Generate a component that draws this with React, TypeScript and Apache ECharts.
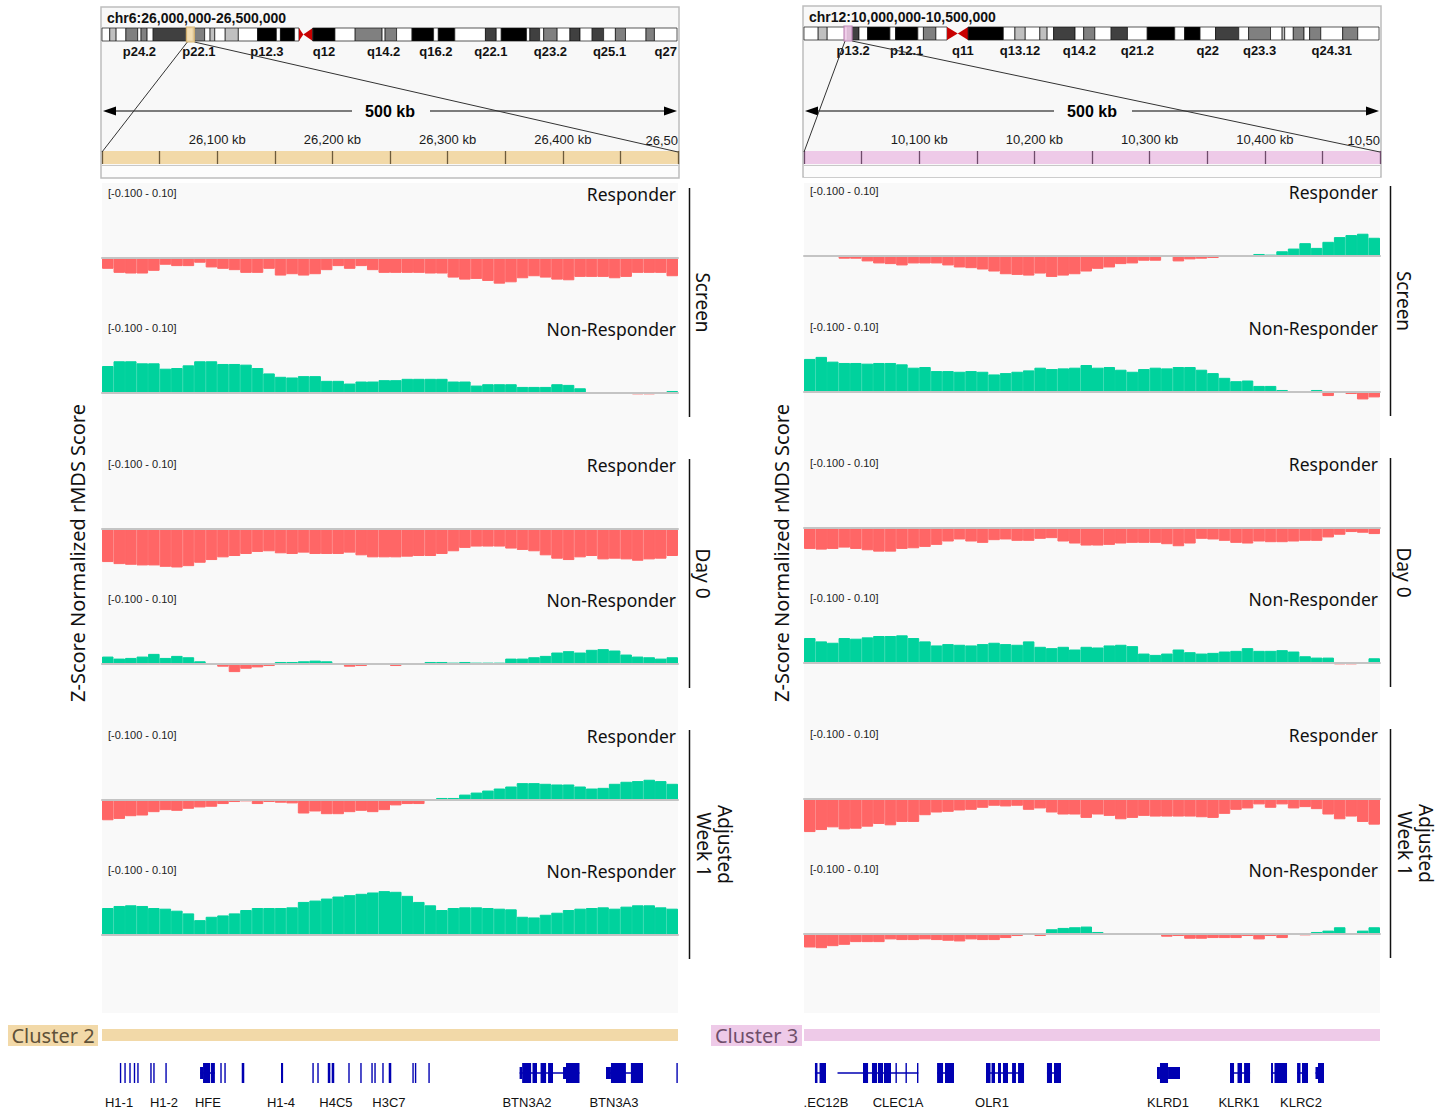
import React, { useEffect, useRef } from "react";
import * as echarts from "echarts";

// ================= DATA =================
const leftLocus = "chr6:26,000,000-26,500,000";
const rightLocus = "chr12:10,000,000-10,500,000";
const leftRegionKb = [26000, 26500];
const rightRegionKb = [10000, 10500];
const binKb = 10;
const leftChromMb = 170.8;
const rightChromMb = 133.85;
const scaleBarLabel = "500 kb";

const trackNames = ["Responder", "Non-Responder", "Responder", "Non-Responder", "Responder", "Non-Responder"];
const groupNames = ["Screen", "Day 0", "Adjusted\nWeek 1"];
const dataRangeLabel = "[-0.100 - 0.10]";
const dataRange = [-0.1, 0.1];
const yAxisTitle = "Z-Score Normalized rMDS Score";
const leftClusterName = "Cluster 2";
const rightClusterName = "Cluster 3";

// ---- bin values (10 kb bins) ----
const leftScreenResponder = [-0.016,-0.022,-0.023,-0.023,-0.019,-0.010,-0.012,-0.012,-0.007,-0.014,-0.016,-0.018,-0.022,-0.022,-0.016,-0.026,-0.024,-0.026,-0.024,-0.018,-0.012,-0.016,-0.012,-0.018,-0.022,-0.022,-0.022,-0.022,-0.023,-0.023,-0.029,-0.032,-0.031,-0.034,-0.038,-0.036,-0.030,-0.027,-0.029,-0.032,-0.033,-0.028,-0.028,-0.028,-0.030,-0.028,-0.022,-0.022,-0.022,-0.027];
const leftScreenNonResponder = [0.040,0.047,0.047,0.044,0.044,0.036,0.037,0.041,0.047,0.047,0.043,0.043,0.042,0.037,0.029,0.024,0.023,0.025,0.025,0.018,0.018,0.014,0.017,0.017,0.019,0.019,0.021,0.021,0.021,0.021,0.017,0.017,0.011,0.013,0.013,0.013,0.009,0.009,0.009,0.013,0.012,0.007,0.001,0.001,0.001,0.001,-0.002,-0.002,0.001,0.003];
const leftDay0Responder = [-0.049,-0.052,-0.053,-0.054,-0.054,-0.056,-0.057,-0.055,-0.050,-0.046,-0.042,-0.040,-0.037,-0.034,-0.033,-0.036,-0.037,-0.035,-0.037,-0.037,-0.037,-0.035,-0.039,-0.042,-0.042,-0.042,-0.041,-0.040,-0.040,-0.037,-0.033,-0.028,-0.026,-0.026,-0.026,-0.029,-0.031,-0.033,-0.039,-0.044,-0.046,-0.042,-0.040,-0.045,-0.044,-0.045,-0.047,-0.045,-0.044,-0.040];
const leftDay0NonResponder = [0.011,0.008,0.009,0.011,0.015,0.009,0.012,0.010,0.004,0.000,-0.004,-0.012,-0.007,-0.005,-0.003,0.003,0.003,0.004,0.005,0.004,0.001,-0.004,-0.003,-0.001,-0.001,-0.003,0.000,0.0005,0.003,0.003,0.002,0.003,0.002,0.002,0.002,0.008,0.008,0.010,0.012,0.017,0.019,0.017,0.021,0.022,0.020,0.014,0.011,0.010,0.008,0.010];
const leftWeek1Responder = [-0.030,-0.028,-0.024,-0.023,-0.018,-0.015,-0.016,-0.013,-0.011,-0.010,-0.006,-0.003,-0.002,-0.006,-0.003,-0.004,-0.005,-0.020,-0.017,-0.021,-0.021,-0.018,-0.016,-0.018,-0.015,-0.008,-0.006,-0.006,0.000,0.003,0.003,0.008,0.011,0.014,0.017,0.020,0.025,0.025,0.024,0.023,0.023,0.020,0.017,0.018,0.024,0.027,0.028,0.030,0.028,0.024];
const leftWeek1NonResponder = [0.040,0.043,0.044,0.043,0.040,0.039,0.036,0.032,0.022,0.027,0.029,0.032,0.037,0.040,0.040,0.040,0.041,0.049,0.051,0.054,0.057,0.059,0.061,0.063,0.065,0.064,0.058,0.049,0.044,0.037,0.040,0.041,0.041,0.040,0.039,0.038,0.027,0.026,0.030,0.033,0.037,0.039,0.040,0.041,0.039,0.042,0.044,0.044,0.041,0.039];

const rightScreenResponder = [0.001,0.001,0.000,-0.004,-0.004,-0.008,-0.011,-0.012,-0.014,-0.011,-0.011,-0.011,-0.014,-0.017,-0.018,-0.020,-0.023,-0.027,-0.028,-0.029,-0.026,-0.031,-0.029,-0.027,-0.023,-0.019,-0.017,-0.012,-0.011,-0.007,-0.007,-0.001,-0.008,-0.005,-0.004,-0.003,-0.001,0.0005,0.0005,0.003,0.002,0.007,0.011,0.019,0.012,0.021,0.028,0.031,0.033,0.027];
const rightScreenNonResponder = [0.049,0.052,0.045,0.043,0.043,0.042,0.043,0.043,0.041,0.036,0.037,0.031,0.031,0.030,0.031,0.030,0.026,0.028,0.030,0.032,0.036,0.034,0.035,0.036,0.040,0.036,0.037,0.033,0.030,0.034,0.036,0.035,0.037,0.037,0.033,0.028,0.021,0.016,0.017,0.009,0.009,0.003,0.001,0.001,0.003,-0.006,-0.001,-0.003,-0.011,-0.008];
const rightDay0Responder = [-0.031,-0.032,-0.031,-0.029,-0.031,-0.033,-0.035,-0.035,-0.031,-0.030,-0.028,-0.025,-0.020,-0.017,-0.020,-0.022,-0.018,-0.017,-0.019,-0.019,-0.016,-0.015,-0.020,-0.023,-0.026,-0.026,-0.025,-0.023,-0.022,-0.022,-0.022,-0.024,-0.027,-0.023,-0.016,-0.017,-0.019,-0.022,-0.023,-0.020,-0.021,-0.021,-0.020,-0.019,-0.019,-0.014,-0.010,-0.006,-0.007,-0.009];
const rightDay0NonResponder = [0.037,0.032,0.030,0.037,0.036,0.038,0.040,0.040,0.041,0.037,0.032,0.026,0.028,0.027,0.026,0.028,0.030,0.028,0.027,0.032,0.024,0.022,0.024,0.020,0.024,0.023,0.026,0.027,0.025,0.014,0.012,0.014,0.020,0.016,0.014,0.015,0.017,0.018,0.022,0.018,0.018,0.019,0.017,0.010,0.008,0.008,-0.002,-0.002,0.000,0.007];
const rightWeek1Responder = [-0.049,-0.046,-0.042,-0.045,-0.044,-0.041,-0.037,-0.039,-0.034,-0.034,-0.024,-0.020,-0.019,-0.017,-0.016,-0.013,-0.010,-0.011,-0.010,-0.016,-0.014,-0.020,-0.023,-0.023,-0.028,-0.023,-0.025,-0.030,-0.028,-0.025,-0.026,-0.026,-0.026,-0.026,-0.027,-0.028,-0.022,-0.016,-0.014,-0.008,-0.013,-0.008,-0.014,-0.012,-0.015,-0.023,-0.030,-0.026,-0.034,-0.038];
const rightWeek1NonResponder = [-0.020,-0.021,-0.018,-0.016,-0.012,-0.012,-0.012,-0.008,-0.009,-0.009,-0.008,-0.009,-0.010,-0.011,-0.008,-0.009,-0.009,-0.006,-0.003,-0.001,-0.003,0.007,0.009,0.010,0.011,0.003,0.000,0.000,0.000,0.000,0.000,-0.004,-0.003,-0.007,-0.007,-0.006,-0.006,-0.006,-0.003,-0.008,-0.003,-0.006,-0.001,-0.002,0.003,0.005,0.010,0.001,0.005,0.010];

// ---- cytobands [startMb, endMb, stain, name] ----
const chr6Bands = [
  [0,2.3,"gneg","p25.3"],[2.3,4.2,"gpos25","p25.2"],[4.2,7.1,"gneg","p25.1"],[7.1,10.6,"gpos50","p24.3"],[10.6,11.6,"gneg","p24.2"],[11.6,13.4,"gpos50","p24.1"],[13.4,15.2,"gneg","p23"],[15.2,25.2,"gpos75","p22.3"],[25.2,27.1,"gneg","p22.2"],[27.1,30.5,"gpos50","p22.1"],[30.5,32.1,"gneg","p21.33"],[32.1,33.5,"gpos25","p21.32"],[33.5,36.6,"gneg","p21.31"],[36.6,40.5,"gpos25","p21.2"],[40.5,46.2,"gneg","p21.1"],[46.2,51.8,"gpos100","p12.3"],[51.8,53.0,"gneg","p12.2"],[53.0,57.2,"gpos100","p12.1"],[57.2,58.5,"gneg","p11.2"],[58.5,59.8,"acen","p11.1"],[59.8,62.6,"acen","q11.1"],[62.6,62.7,"gneg","q11.2"],[62.7,69.2,"gpos100","q12"],[69.2,75.2,"gneg","q13"],[75.2,83.2,"gpos50","q14.1"],[83.2,84.1,"gneg","q14.2"],[84.1,87.5,"gpos50","q14.3"],[87.5,92.1,"gneg","q15"],[92.1,98.5,"gpos100","q16.1"],[98.5,99.9,"gneg","q16.2"],[99.9,104.8,"gpos100","q16.3"],[104.8,113.9,"gneg","q21"],[113.9,117.1,"gpos75","q22.1"],[117.1,118.6,"gneg","q22.2"],[118.6,126.1,"gpos100","q22.31"],[126.1,127.1,"gneg","q22.32"],[127.1,130.0,"gpos75","q22.33"],[130.0,131.2,"gneg","q23.1"],[131.2,135.2,"gpos50","q23.2"],[135.2,139.0,"gneg","q23.3"],[139.0,142.0,"gpos75","q24.1"],[142.0,145.6,"gneg","q24.2"],[145.6,149.0,"gpos75","q24.3"],[149.0,152.5,"gneg","q25.1"],[152.5,155.5,"gpos50","q25.2"],[155.5,161.6,"gneg","q25.3"],[161.6,164.1,"gpos50","q26"],[164.1,170.8,"gneg","q27"],
];
const chr6LabeledBands = ["p24.2","p22.1","p12.3","q12","q14.2","q16.2","q22.1","q23.2","q25.1","q27"];
const chr12Bands = [
  [0,3.3,"gneg","p13.33"],[3.3,5.4,"gpos25","p13.32"],[5.4,10.1,"gneg","p13.31"],[10.1,12.8,"gpos75","p13.2"],[12.8,14.8,"gneg","p13.1"],[14.8,20.0,"gpos100","p12.3"],[20.0,21.3,"gneg","p12.2"],[21.3,26.5,"gpos100","p12.1"],[26.5,27.8,"gneg","p11.23"],[27.8,30.7,"gpos50","p11.22"],[30.7,33.3,"gneg","p11.21"],[33.3,35.8,"acen","p11.1"],[35.8,38.2,"acen","q11"],[38.2,46.4,"gpos100","q12"],[46.4,49.1,"gneg","q13.11"],[49.1,51.5,"gpos25","q13.12"],[51.5,54.9,"gneg","q13.13"],[54.9,56.6,"gpos25","q13.2"],[56.6,58.1,"gneg","q13.3"],[58.1,63.1,"gpos75","q14.1"],[63.1,65.1,"gneg","q14.2"],[65.1,67.7,"gpos50","q14.3"],[67.7,71.5,"gneg","q15"],[71.5,75.3,"gpos75","q21.1"],[75.3,79.9,"gneg","q21.2"],[79.9,86.3,"gpos100","q21.31"],[86.3,88.6,"gneg","q21.32"],[88.6,92.2,"gpos100","q21.33"],[92.2,95.8,"gneg","q22"],[95.8,101.2,"gpos75","q23.1"],[101.2,103.5,"gneg","q23.2"],[103.5,108.6,"gpos50","q23.3"],[108.6,111.3,"gneg","q24.11"],[111.3,111.9,"gpos25","q24.12"],[111.9,113.9,"gneg","q24.13"],[113.9,116.4,"gpos50","q24.21"],[116.4,117.7,"gneg","q24.22"],[117.7,120.3,"gpos50","q24.23"],[120.3,125.4,"gneg","q24.31"],[125.4,128.9,"gpos50","q24.32"],[128.9,133.85,"gneg","q24.33"],
];
const chr12LabeledBands = ["p13.2","p12.1","q11","q13.12","q14.2","q21.2","q22","q23.3","q24.31"];

// ---- gene features [startKb, endKb (offset from region start), kind] ----
const leftGeneFeatures = [
  [15.5,16.7,"exon"],[19.4,20.6,"exon"],[23.7,24.9,"exon"],[27.6,28.8,"exon"],[30.6,31.8,"exon"],
  [41.9,43.1,"exon"],[44.5,45.7,"exon"],[55.0,56.2,"exon"],
  [85.1,98.0,"intron"],[85.1,87.7,"utr"],[87.7,93.8,"exon"],[94.5,98.0,"exon"],
  [102.7,103.9,"exon"],[106.2,107.4,"exon"],[121.3,123.5,"exon"],[155.4,157.2,"exon"],
  [182.6,183.8,"exon"],[186.9,188.1,"exon"],[196.0,198.2,"exon"],[199.4,201.6,"exon"],
  [213.8,215.0,"exon"],[224.2,225.4,"exon"],[233.8,235.0,"exon"],[236.4,237.6,"exon"],[243.3,244.5,"exon"],[248.9,251.1,"exon"],
  [269.4,270.6,"exon"],[271.6,272.8,"exon"],[283.3,284.5,"exon"],
  [362.5,414.5,"intron"],[362.5,364.7,"utr"],[364.7,372.5,"exon"],[373.7,377.6,"exon"],[380.7,385.5,"exon"],[387.2,391.5,"exon"],[400.2,402.8,"utr"],[402.8,414.5,"exon"],
  [437.5,469.6,"intron"],[437.5,441.8,"utr"],[441.8,454.8,"exon"],[459.1,469.6,"exon"],
  [498.6,499.8,"exon"],
];
const leftGeneLabels = ["H1-1","H1-2","HFE","H1-4","H4C5","H3C7","BTN3A2","BTN3A3"];
const leftGeneLabelKb = [14.8, 53.8, 92.0, 155.4, 203.1, 249.1, 368.9, 444.4];

const rightGeneFeatures = [
  [9.5,19.1,"intron"],[9.5,11.7,"exon"],[13.5,19.1,"exon"],
  [29.1,99.2,"intron"],
  [51.2,55.6,"exon"],[59.0,63.4,"exon"],[64.2,68.6,"exon"],[69.4,75.5,"exon"],[79.4,80.6,"exon"],[88.1,89.2,"exon"],[98.1,99.2,"exon"],
  [115.5,130.2,"intron"],[115.5,120.7,"exon"],[122.4,130.2,"exon"],
  [158.0,191.0,"intron"],[158.0,161.9,"exon"],[162.8,165.8,"exon"],[168.4,171.0,"exon"],[172.7,177.1,"exon"],[180.6,184.0,"exon"],[185.8,191.0,"exon"],
  [210.9,223.1,"intron"],[210.9,215.3,"exon"],[217.0,223.1,"exon"],
  [306.4,309.0,"utr"],[309.0,316.0,"exon"],[316.0,326.4,"utr"],
  [369.8,387.2,"intron"],[369.8,373.3,"exon"],[376.3,380.2,"exon"],[382.0,387.2,"exon"],
  [405.4,419.3,"intron"],[405.4,407.1,"exon"],[408.4,419.3,"exon"],
  [428.0,437.5,"intron"],[428.0,431.0,"exon"],[432.3,437.5,"exon"],
  [444.0,451.4,"intron"],[444.0,446.2,"utr"],[446.2,451.4,"exon"],
];
const rightGeneLabels = [".EC12B","CLEC1A","OLR1","KLRD1","KLRK1","KLRC2"];
const rightGeneLabelKb = [19.1, 81.6, 163.2, 316.0, 377.6, 431.4];

// ================= STYLE / LAYOUT =================
const GREEN = "#00d29d";
const RED = "#ff6666";
const GENE_BLUE = "#0000b2";
const STAIN: Record<string, string> = { gneg: "#ffffff", gpos25: "#c0c0c0", gpos50: "#808080", gpos75: "#404040", gpos100: "#000000", acen: "#c80000" };
const PANEL_W = 576;
const IDEO_TOP = 28, IDEO_H = 13;
const RULER_TOP = 151, RULER_H = 13;
const GENE_TOP = 1063, GENE_H = 20;
const HALF = 67.5;
const SANS = '"Noto Sans", "Open Sans", sans-serif';
const ARIAL = '"Liberation Sans", Arial, sans-serif';

const PANELS = [
  {
    locus: leftLocus, region: leftRegionKb, chromMb: leftChromMb, bands: chr6Bands, labeled: chr6LabeledBands,
    tracks: [leftScreenResponder, leftScreenNonResponder, leftDay0Responder, leftDay0NonResponder, leftWeek1Responder, leftWeek1NonResponder],
    genes: leftGeneFeatures, geneLabels: leftGeneLabels, geneLabelKb: leftGeneLabelKb, cluster: leftClusterName,
    x0: 102, dy: 0, boxTop: 7, baselines: [258, 393, 529, 664, 800, 935], bracketX: 689.5, titleX: 77, clX: 8, clW: 90,
    accent: "#f2d9a8", tick: "#6d5b3b", hiStroke: "#d8b36c", clText: "#5f5138",
  },
  {
    locus: rightLocus, region: rightRegionKb, chromMb: rightChromMb, bands: chr12Bands, labeled: chr12LabeledBands,
    tracks: [rightScreenResponder, rightScreenNonResponder, rightDay0Responder, rightDay0NonResponder, rightWeek1Responder, rightWeek1NonResponder],
    genes: rightGeneFeatures, geneLabels: rightGeneLabels, geneLabelKb: rightGeneLabelKb, cluster: rightClusterName,
    x0: 804, dy: -1, boxTop: 6, baselines: [256, 392, 528, 663, 799, 934], bracketX: 1390.5, titleX: 781, clX: 711, clW: 91,
    accent: "#eecae8", tick: "#6f4b6b", hiStroke: "#b87cb0", clText: "#6f4e6a",
  },
];

function txt(x: number, y: number, text: string, font: string, fill: string, align = "left", vAlign = "middle", rotation = 0, lineHeight?: number) {
  return {
    type: "text", x, y, rotation, z: 20, silent: true,
    style: { text, font, fill, align, verticalAlign: vAlign, textAlign: align, textVerticalAlign: vAlign, lineHeight },
  };
}

function buildOption() {
  const grid: any[] = [], xAxis: any[] = [], yAxis: any[] = [], series: any[] = [], els: any[] = [];
  const addGrid = (g: any, xa: any, ya: any) => {
    const i = grid.length;
    grid.push({ outerBoundsMode: "none", containLabel: false, ...g });
    xAxis.push({ ...xa, gridIndex: i });
    yAxis.push({ ...ya, gridIndex: i });
    return i;
  };
  const hidden = (min: number, max: number) => ({ type: "value", min, max, show: false });

  PANELS.forEach((P) => {
    const x0 = P.x0;
    const [rs, re] = P.region;

    // ---- top box ----
    els.push({ type: "rect", z: 0, shape: { x: x0 - 1, y: P.boxTop, width: PANEL_W + 2, height: 171 }, style: { fill: "#f8f8f8", stroke: "#bdbdbd", lineWidth: 1.5 } });
    els.push({ type: "rect", z: 1, shape: { x: x0, y: 166, width: PANEL_W, height: 11 }, style: { fill: "#fcfcfc" } });
    els.push({ type: "line", z: 1, shape: { x1: x0, y1: 165.5, x2: x0 + PANEL_W, y2: 165.5 }, style: { stroke: "#c8c8c8", lineWidth: 1 } });
    els.push(txt(x0 + 5, 18 + P.dy, P.locus, `bold 14px ${ARIAL}`, "#111"));

    // ---- ideogram ----
    const ig = addGrid({ left: x0, top: IDEO_TOP + P.dy, width: PANEL_W - 1, height: IDEO_H }, hidden(0, P.chromMb), hidden(0, 1));
    const bands = P.bands;
    series.push({
      type: "custom", xAxisIndex: ig, yAxisIndex: ig, clip: false, silent: true, z: 3,
      data: bands.map((b: any) => [b[0], b[1]]),
      renderItem: (params: any, api: any) => {
        const b: any = bands[params.dataIndex];
        const a = api.coord([api.value(0), 1]);
        const c = api.coord([api.value(1), 0]);
        const x = a[0], y = a[1], w = c[0] - a[0], h = c[1] - a[1];
        if (b[2] === "acen") {
          const isP = String(b[3]).charAt(0) === "p";
          const pts = isP ? [[x, y], [x + w, y + h / 2], [x, y + h]] : [[x, y + h / 2], [x + w, y], [x + w, y + h]];
          return { type: "polygon", shape: { points: pts }, style: { fill: STAIN.acen } };
        }
        return { type: "rect", shape: { x, y, width: w, height: h }, style: { fill: STAIN[b[2]], stroke: "#111", lineWidth: 0.7 } };
      },
    });
    const lab = bands.filter((b: any) => P.labeled.indexOf(b[3]) >= 0);
    series.push({
      type: "custom", xAxisIndex: ig, yAxisIndex: ig, clip: false, silent: true, z: 4,
      data: lab.map((b: any) => [(b[0] + b[1]) / 2, 0]),
      renderItem: (params: any, api: any) => {
        const p = api.coord([api.value(0), 0]);
        const t = lab[params.dataIndex][3];
        return { type: "text", x: p[0], y: p[1] + 10, style: { text: t, font: `bold 13px ${ARIAL}`, fill: "#111", align: "center", verticalAlign: "middle", textAlign: "center", textVerticalAlign: "middle" } };
      },
    });

    // highlight + zoom lines
    const hx = x0 + ((rs + re) / 2000 / P.chromMb) * (PANEL_W - 1);
    const ideoTop = IDEO_TOP + P.dy;
    els.push({ type: "rect", z: 10, shape: { x: hx - 4, y: ideoTop - 1, width: 8, height: IDEO_H + 2 }, style: { fill: P.accent, opacity: 0.9, stroke: P.hiStroke, lineWidth: 1.2 } });
    els.push({ type: "line", z: 9, shape: { x1: hx - 3, y1: ideoTop + IDEO_H + 1, x2: x0, y2: RULER_TOP + 1 }, style: { stroke: "#333", lineWidth: 1 } });
    els.push({ type: "line", z: 9, shape: { x1: hx + 4, y1: ideoTop + IDEO_H + 1, x2: x0 + PANEL_W, y2: RULER_TOP + 1 }, style: { stroke: "#333", lineWidth: 1 } });

    // 500 kb scale arrow
    const ay = 111;
    els.push({ type: "line", z: 5, shape: { x1: x0 + 8, y1: ay, x2: x0 + 250, y2: ay }, style: { stroke: "#000", lineWidth: 1.2 } });
    els.push({ type: "line", z: 5, shape: { x1: x0 + 328, y1: ay, x2: x0 + PANEL_W - 8, y2: ay }, style: { stroke: "#000", lineWidth: 1.2 } });
    els.push({ type: "polygon", z: 5, shape: { points: [[x0 + 1, ay], [x0 + 14, ay - 4.5], [x0 + 14, ay + 4.5]] }, style: { fill: "#000" } });
    els.push({ type: "polygon", z: 5, shape: { points: [[x0 + PANEL_W - 1, ay], [x0 + PANEL_W - 14, ay - 4.5], [x0 + PANEL_W - 14, ay + 4.5]] }, style: { fill: "#000" } });
    els.push(txt(x0 + 288, ay, scaleBarLabel, `bold 16px ${ARIAL}`, "#000", "center"));

    // ---- ruler ----
    const fmt = (v: number) => v.toLocaleString("en-US") + " kb";
    els.push({ type: "rect", z: 2, shape: { x: x0, y: RULER_TOP, width: PANEL_W, height: RULER_H }, style: { fill: P.accent } });
    addGrid(
      { left: x0, top: RULER_TOP, width: PANEL_W, height: RULER_H },
      {
        type: "value", min: rs, max: re, interval: 50, position: "top", z: 6,
        axisLine: { show: false, onZero: false },
        axisTick: { show: false },
        axisLabel: { show: true, margin: 5, fontSize: 13, fontFamily: ARIAL, color: "#1a1a1a", showMinLabel: false, showMaxLabel: false, hideOverlap: false,
          formatter: (v: number) => (v % 100 === 0 ? fmt(v) : "") },
        splitLine: { show: true, lineStyle: { color: P.tick, width: 1.3 } },
      },
      hidden(0, 1),
    );
    els.push(txt(x0 + PANEL_W, 140, fmt(re).slice(0, 5), `13px ${ARIAL}`, "#1a1a1a", "right"));

    // ---- data tracks ----
    els.push({ type: "rect", z: 0, shape: { x: x0, y: 183, width: PANEL_W, height: 830 }, style: { fill: "#f9f9f9" } });
    const cats = P.tracks[0].map((_: number, i: number) => String(rs + i * binKb));
    P.tracks.forEach((vals: number[], ti: number) => {
      const base = P.baselines[ti];
      const gi = addGrid(
        { left: x0, top: base - HALF, width: PANEL_W, height: 2 * HALF },
        { type: "category", data: cats, boundaryGap: true, z: 6,
          axisLine: { show: true, onZero: true, lineStyle: { color: "#c4c4c4", width: 2 } },
          axisTick: { show: false }, axisLabel: { show: false }, splitLine: { show: false } },
        { type: "value", min: dataRange[0], max: dataRange[1], show: false },
      );
      series.push({
        type: "bar", xAxisIndex: gi, yAxisIndex: gi, barWidth: "100%", barCategoryGap: "0%", silent: true,
        data: vals.map((v) => ({ value: v, itemStyle: { color: v >= 0 ? GREEN : RED, borderColor: v >= 0 ? GREEN : RED, borderWidth: 1 } })),
      });
      els.push(txt(x0 + 6, base - 65, dataRangeLabel, `11px ${ARIAL}`, "#222"));
      els.push(txt(x0 + 574, base - 64, trackNames[ti], `17.5px ${SANS}`, "#111", "right"));
    });

    // group brackets
    groupNames.forEach((g, gi) => {
      const top = P.baselines[gi * 2] - 70;
      const bot = P.baselines[gi * 2 + 1] + 24;
      els.push({ type: "line", z: 5, shape: { x1: P.bracketX, y1: top, x2: P.bracketX, y2: bot }, style: { stroke: "#111", lineWidth: 1.5 } });
      const multi = g.indexOf("\n") >= 0;
      els.push(txt(P.bracketX + (multi ? 24.5 : 13.5), (top + bot) / 2, g, `19px ${SANS}`, "#111", "center", "middle", -Math.PI / 2, 21));
    });

    // y title
    els.push(txt(P.titleX, 553, yAxisTitle, `20px ${SANS}`, "#111", "center", "middle", Math.PI / 2));

    // cluster
    els.push({ type: "rect", z: 1, shape: { x: P.clX, y: 1025, width: P.clW, height: 21 }, style: { fill: P.accent } });
    els.push(txt(P.clX + P.clW / 2, 1035.5, P.cluster, `20px ${SANS}`, P.clText, "center"));
    els.push({ type: "rect", z: 1, shape: { x: x0, y: 1029, width: PANEL_W, height: 12 }, style: { fill: P.accent } });

    // ---- genes ----
    const gg = addGrid({ left: x0, top: GENE_TOP, width: PANEL_W, height: GENE_H }, hidden(0, re - rs), hidden(0, 1));
    const feats = P.genes;
    series.push({
      type: "custom", xAxisIndex: gg, yAxisIndex: gg, clip: false, silent: true, z: 3,
      data: feats.map((f: any) => [f[0], f[1]]),
      renderItem: (params: any, api: any) => {
        const f: any = feats[params.dataIndex];
        const a = api.coord([api.value(0), 1]);
        const c = api.coord([api.value(1), 0]);
        const x = a[0], w = Math.max(c[0] - a[0], 1.4), top = a[1], h = c[1] - a[1], mid = top + h / 2;
        if (f[2] === "intron") return { type: "rect", shape: { x, y: mid - 0.75, width: w, height: 1.5 }, style: { fill: GENE_BLUE } };
        if (f[2] === "utr") return { type: "rect", shape: { x, y: mid - h * 0.3, width: w, height: h * 0.6 }, style: { fill: GENE_BLUE } };
        return { type: "rect", shape: { x, y: top, width: w, height: h }, style: { fill: GENE_BLUE } };
      },
    });
    series.push({
      type: "custom", xAxisIndex: gg, yAxisIndex: gg, clip: false, silent: true, z: 4,
      data: P.geneLabelKb.map((k: number) => [k, 0]),
      renderItem: (params: any, api: any) => {
        const p = api.coord([api.value(0), 0]);
        return { type: "text", x: p[0], y: p[1] + 19, style: { text: P.geneLabels[params.dataIndex], font: `13px ${ARIAL}`, fill: "#111", align: "center", verticalAlign: "middle", textAlign: "center", textVerticalAlign: "middle" } };
      },
    });
  });

  return {
    animation: false,
    backgroundColor: "#ffffff",
    grid, xAxis, yAxis, series,
    tooltip: { show: false },
    graphic: { elements: els },
  };
}

export default function App() {
  const ref = useRef<HTMLDivElement>(null);
  useEffect(() => {
    if (!ref.current) return;
    const chart = echarts.init(ref.current, null, { renderer: "svg" });
    chart.setOption(buildOption() as any);
    return () => chart.dispose();
  }, []);
  return <div ref={ref} style={{ position: "absolute", left: 0, top: 0, width: 1450, height: 1112 }} />;
}
